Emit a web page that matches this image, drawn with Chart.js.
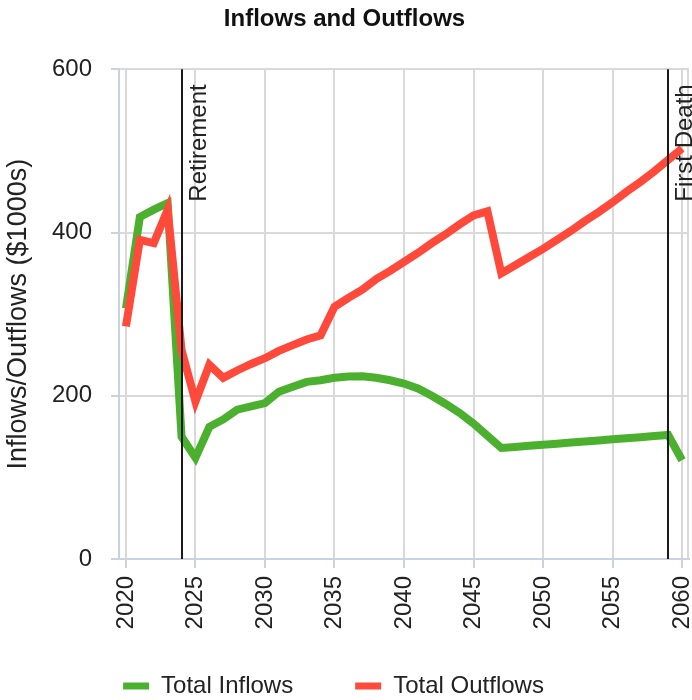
<!DOCTYPE html>
<html>
<head>
<meta charset="utf-8">
<script src="https://cdn.jsdelivr.net/npm/chart.js@4/dist/chart.umd.min.js"></script>
<style>
  html, body { margin: 0; padding: 0; background: #fff; }
  #wrap { width: 692px; height: 700px; }
</style>
</head>
<body>
<div id="wrap"><canvas id="flows"></canvas></div>
<script>
// yearly totals, in $1000s
const years = [];
for (let y = 2020; y <= 2060; y++) years.push(y);

const inflows = [
    307, 419, 428, 436, 150, 124, 162, 171, 183, 187,
    191, 205, 211, 217, 219, 222, 223.5, 224, 222, 219,
    215, 209, 200, 190, 179, 166, 151, 136, 137.3, 138.7,
    140, 141.3, 142.7, 144, 145.3, 146.7, 148, 149.3, 150.7, 152,
    121
];
const outflows = [
    285, 391, 387, 428, 256, 193, 238, 222, 231, 239,
    246, 255, 262, 269, 274, 309, 320, 330, 343, 353,
    364, 375, 387, 398, 410, 421, 426, 350, 360, 370,
    380, 391, 402, 414, 425, 437, 450, 462, 475, 489,
    503
];

const tickYears = [2020, 2025, 2030, 2035, 2040, 2045, 2050, 2055, 2060];
const yTicks = [0, 200, 400, 600];

const eventYears = [2024, 2059];
const eventLabels = ['Retirement', 'First Death'];

const FONT = 'Arial, "Liberation Sans", sans-serif';

// vertical markers for life events, plus the right edge of the plot frame
const eventLines = {
    id: 'eventLines',
    afterLayout(chart) {
        // nudge the legend row a little left of centre
        chart.legend.left -= 11;
        chart.legend.right -= 11;
        // year labels hang down past the axis box, don't clip them
        chart.scales.x.bottom = chart.height;
    },
    beforeDatasetsDraw(chart) {
        const {ctx, chartArea: a} = chart;
        ctx.save();
        ctx.strokeStyle = '#d9d9d9';
        ctx.lineWidth = 2;
        ctx.beginPath();
        ctx.moveTo(a.right - 1, a.top);
        ctx.lineTo(a.right - 1, a.bottom);
        ctx.stroke();
        ctx.restore();
    },
    afterDatasetsDraw(chart) {
        const {ctx, chartArea: a, scales: {x}} = chart;
        ctx.save();
        eventYears.forEach((yr, i) => {
            const px = Math.round(x.getPixelForValue(yr));
            ctx.strokeStyle = '#1a1a1a';
            ctx.lineWidth = 2;
            ctx.beginPath();
            ctx.moveTo(px, a.top);
            ctx.lineTo(px, a.bottom);
            ctx.stroke();

            ctx.save();
            ctx.translate(px + 24, a.top + 15);
            ctx.rotate(-Math.PI / 2);
            ctx.fillStyle = '#222';
            ctx.font = '24px ' + FONT;
            ctx.textAlign = 'right';
            ctx.textBaseline = 'alphabetic';
            ctx.fillText(eventLabels[i], 0, 0);
            ctx.restore();
        });
        ctx.restore();
    }
};

new Chart(document.getElementById('flows'), {
    type: 'line',
    data: {
        datasets: [
            {
                label: 'Total Inflows',
                data: years.map((y, i) => ({x: y, y: inflows[i]})),
                borderColor: '#4cb02f',
                backgroundColor: '#4cb02f',
                borderWidth: 8,
                pointRadius: 0,
                order: 1,
            },
            {
                label: 'Total Outflows',
                data: years.map((y, i) => ({x: y, y: outflows[i]})),
                borderColor: '#ff4a3b',
                backgroundColor: '#ff4a3b',
                borderWidth: 8,
                pointRadius: 0,
                order: 0,
            }
        ],
    },
    options: {
        responsive: true,
        maintainAspectRatio: false,
        animation: false,
        layout: { padding: { top: 0, right: 3, bottom: -8, left: 0 } },
        plugins: {
            title: {
                display: true,
                text: 'Inflows and Outflows',
                color: '#111',
                font: { family: FONT, size: 24, weight: 'bold', lineHeight: 1.2 },
                padding: { top: 5, bottom: 35.5 },
            },
            legend: {
                position: 'bottom',
                labels: {
                    color: '#222',
                    font: { family: FONT, size: 24 },
                    boxWidth: 26,
                    boxHeight: 7,
                    padding: 62,
                    sort: (a, b) => a.datasetIndex - b.datasetIndex,
                    generateLabels(chart) {
                        const items = Chart.defaults.plugins.legend.labels.generateLabels(chart);
                        items.forEach(it => { it.lineWidth = 0; });
                        return items;
                    },
                },
            },
            tooltip: { enabled: false },
        },
        scales: {
            x: {
                type: 'linear',
                min: 2019.5,
                max: 2060.5,
                afterBuildTicks: (s) => { s.ticks = tickYears.map(v => ({value: v})); },
                afterFit: (s) => {
                    s.height = 53;
                    s.paddingLeft = 0;
                    s.paddingRight = 0;
                },
                grid: { color: '#d9d9d9', lineWidth: 2, tickColor: '#c8d3df', tickLength: 9 },
                border: { color: '#c8d3df', width: 2 },
                ticks: {
                    autoSkip: false,
                    minRotation: 90,
                    maxRotation: 90,
                    padding: 8,
                    color: '#222',
                    font: { family: FONT, size: 24 },
                    callback: (v) => String(v),
                },
            },
            y: {
                min: 0,
                max: 600,
                afterBuildTicks: (s) => { s.ticks = yTicks.map(v => ({value: v})); },
                afterFit: (s) => { s.width = 119; },
                grid: { color: '#d9d9d9', lineWidth: 2, tickColor: '#c8d3df', tickLength: 8 },
                border: { color: '#c8d3df', width: 2 },
                title: {
                    display: true,
                    text: 'Inflows/Outflows ($1000s)',
                    color: '#222',
                    font: { family: FONT, size: 27 },
                    padding: { top: 2, bottom: 4 },
                },
                ticks: {
                    padding: 19,
                    color: '#222',
                    font: { family: FONT, size: 24 },
                },
            },
        },
    },
    plugins: [eventLines],
});
</script>
</body>
</html>
